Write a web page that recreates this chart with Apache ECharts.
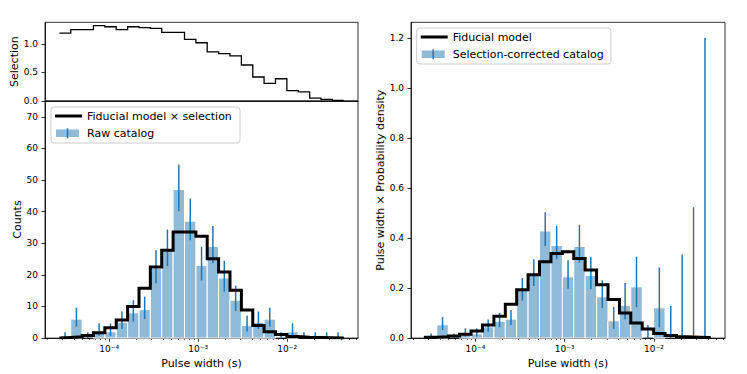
<!DOCTYPE html>
<html>
<head>
<meta charset="utf-8">
<script src="https://cdn.jsdelivr.net/npm/echarts@6/dist/echarts.min.js"></script>
<style>
html,body{margin:0;padding:0;background:#fff;}
#chart{width:747px;height:374px;}
</style>
</head>
<body>
<div id="chart"></div>
<script>
// ---------------- data ----------------
// log-spaced bin edges of pulse width (s), 25 bins
const binEdges = [2.754e-5, 3.698e-5, 4.966e-5, 6.653e-5, 8.933e-5, 1.199e-4, 1.611e-4, 2.163e-4,
  2.897e-4, 3.890e-4, 5.224e-4, 7.015e-4, 9.419e-4, 1.262e-3, 1.694e-3, 2.275e-3, 3.055e-3,
  4.102e-3, 5.495e-3, 7.379e-3, 9.908e-3, 1.330e-2, 1.786e-2, 2.393e-2, 3.214e-2, 4.315e-2];

// top-left panel: selection function
const selection = [1.19, 1.25, 1.25, 1.32, 1.30, 1.25, 1.30, 1.285, 1.27, 1.20, 1.20, 1.08, 1.02,
  0.86, 0.83, 0.79, 0.63, 0.42, 0.31, 0.39, 0.18, 0.16, 0.05, 0.03, 0.01];

// bottom-left panel: raw catalog counts and error bars
const rawCounts = [0, 6, 0, 2, 2, 5, 8, 9, 22, 28, 47, 37, 23, 29, 19, 12, 4, 5, 6, 0, 2, 0, 0, 0, 0];
const rawErrLow = [0, 3.63, 0, 0.71, 0.71, 2.85, 5.24, 6.06, 17.35, 22.74, 40.17, 30.95, 18.24, 23.65,
  14.68, 8.59, 2.09, 2.85, 3.63, 0, 0.71, 0, 0, 0, 0];
const rawErrHigh = [1.84, 9.6, 1.84, 4.66, 4.66, 8.4, 11.96, 13.12, 27.77, 34.36, 54.91, 44.14, 28.87,
  35.45, 24.44, 16.57, 7.18, 8.4, 9.6, 1.84, 4.66, 1.84, 1.84, 1.84, 1.84];
const modelTimesSelection = [0.2, 0.4, 0.8, 1.7, 3.3, 5.75, 10.0, 15.8, 22.5, 27.8, 33.6, 33.6, 32.2,
  25.1, 20.9, 15.1, 8.9, 4.0, 2.0, 1.1, 0.5, 0.3, 0.2, 0.1, 0.05];

// right panel: selection-corrected density and fiducial model
const densityValues = [0, 0.053, 0, 0.017, 0.017, 0.045, 0.067, 0.076, 0.190, 0.255, 0.428, 0.370,
  0.245, 0.366, 0.250, 0.165, 0.069, 0.130, 0.205, 0, 0.121, 0, 0, 0, 0];
const densityErrLow = [0, 0.032, 0, 0.006, 0.006, 0.025, 0.044, 0.052, 0.150, 0.208, 0.368, 0.315,
  0.197, 0.302, 0.195, 0.120, 0.036, 0.075, 0.124, 0, 0.043, 0, 0, 0, 0];
const densityErrHigh = [0.018, 0.084, 0.017, 0.039, 0.039, 0.074, 0.101, 0.112, 0.240, 0.315, 0.503,
  0.449, 0.311, 0.453, 0.324, 0.231, 0.125, 0.220, 0.325, 0.052, 0.282, 0.128, 0.334, 0.523, 1.200];
const fiducialModel = [0.003, 0.005, 0.008, 0.015, 0.028, 0.052, 0.087, 0.135, 0.193, 0.253, 0.305,
  0.338, 0.345, 0.318, 0.272, 0.213, 0.154, 0.100, 0.060, 0.036, 0.018, 0.010, 0.005, 0.003, 0.002];

// ticks
const xMajorTicks = [1e-4, 1e-3, 1e-2];
const xMajorLabels = ['10\u207B\u2074', '10\u207B\u00B3', '10\u207B\u00B2'];
const xMinorTicks = [2e-5, 3e-5, 4e-5, 5e-5, 6e-5, 7e-5, 8e-5, 9e-5,
  2e-4, 3e-4, 4e-4, 5e-4, 6e-4, 7e-4, 8e-4, 9e-4,
  2e-3, 3e-3, 4e-3, 5e-3, 6e-3, 7e-3, 8e-3, 9e-3,
  2e-2, 3e-2, 4e-2, 5e-2, 6e-2];
const selTicks = [0, 0.5, 1.0];
const countTicks = [0, 10, 20, 30, 40, 50, 60, 70];
const densityTicks = [0, 0.2, 0.4, 0.6, 0.8, 1.0, 1.2];

// axis ranges
const XMIN = 1.9e-5, XMAX = 0.0624;
const SEL_MAX = 1.378, COUNT_MAX = 75, DENS_MAX = 1.262;

// ---------------- helpers ----------------
const FONT = 'DejaVu Sans';
const BAR_FILL = '#8fbbd9';
const ERR_COLOR = '#1f77b4';

function stairs(vals, closed) {
  const pts = [];
  if (closed) pts.push([binEdges[0], 0]);
  vals.forEach((v, i) => pts.push([binEdges[i], v]));
  pts.push([binEdges[vals.length], vals[vals.length - 1]]);
  if (closed) pts.push([binEdges[vals.length], 0]);
  return pts;
}
function barData(vals, lo, hi) {
  return vals.map((v, i) => [binEdges[i], binEdges[i + 1], v, lo[i], hi[i]]);
}
function renderBar(params, api) {
  const a = api.coord([api.value(0), 0]);
  const b = api.coord([api.value(1), api.value(2)]);
  const xm = (a[0] + b[0]) / 2;
  const e0 = api.coord([api.value(0), api.value(3)]);
  const e1 = api.coord([api.value(0), api.value(4)]);
  const children = [];
  if (api.value(2) > 0) {
    children.push({type: 'rect', shape: {x: a[0], y: b[1], width: b[0] - a[0], height: a[1] - b[1]},
      style: {fill: BAR_FILL, stroke: '#ffffff', lineWidth: 1}});
  }
  children.push({type: 'line', shape: {x1: xm, y1: e0[1], x2: xm, y2: e1[1]},
    style: {stroke: ERR_COLOR, lineWidth: 1.5}});
  return {type: 'group', children: children};
}
function xTickLabel(v) {
  for (let k = 0; k < xMajorTicks.length; k++) {
    if (Math.abs(Math.log10(v) - Math.log10(xMajorTicks[k])) < 0.02) return xMajorLabels[k];
  }
  return '';
}
const axisLineStyle = {show: true, lineStyle: {color: '#000', width: 0.8}};
const labelStyle = {color: '#000', fontSize: 9, fontFamily: FONT};
const nameStyle = {color: '#000', fontSize: 11, fontFamily: FONT};

function mainX(grid, withLabels) {
  return {
    type: 'log', logBase: 10, gridIndex: grid, min: XMIN, max: XMAX, position: 'bottom',
    axisLine: axisLineStyle, splitLine: {show: false},
    axisTick: withLabels ? {show: true, customValues: xMajorTicks, length: 3.5, lineStyle: {color: '#000', width: 0.8}} : {show: false},
    axisLabel: withLabels ? Object.assign({show: true, customValues: xMajorTicks, margin: 6, formatter: xTickLabel}, labelStyle) : {show: false},
    name: withLabels ? 'Pulse width (s)' : '', nameLocation: 'middle', nameGap: 16, nameTextStyle: nameStyle
  };
}
function minorX(grid) {
  return {
    type: 'log', logBase: 10, gridIndex: grid, min: XMIN, max: XMAX, position: 'bottom',
    axisLine: {show: false}, splitLine: {show: false}, axisLabel: {show: false},
    axisTick: {show: true, customValues: xMinorTicks, length: 2, lineStyle: {color: '#000', width: 0.6}}
  };
}
function yAx(grid, max, interval, ticks, name, gap) {
  return {
    type: 'value', gridIndex: grid, min: 0, max: max, interval: interval,
    axisLine: axisLineStyle, splitLine: {show: false},
    axisTick: {show: true, customValues: ticks, length: 3.5, lineStyle: {color: '#000', width: 0.8}},
    axisLabel: Object.assign({show: true, customValues: ticks, margin: 7,
      formatter: v => (interval < 1 ? v.toFixed(1) : String(Math.round(v)))}, labelStyle),
    name: name, nameLocation: 'middle', nameGap: gap, nameTextStyle: nameStyle
  };
}

// legend built from graphic elements
function legend(x, y, w, lineLabel, barLabel) {
  return {
    type: 'group', z: 100, children: [
      {type: 'rect', shape: {x: x, y: y, width: w, height: 36, r: 3},
        style: {fill: 'rgba(255,255,255,0.8)', stroke: '#cccccc', lineWidth: 1}},
      {type: 'line', shape: {x1: x + 4, y1: y + 9, x2: x + 31, y2: y + 9}, style: {stroke: '#000', lineWidth: 3}},
      {type: 'text', x: x + 36, y: y + 9, style: {text: lineLabel, fontSize: 11, fontFamily: FONT, fill: '#000', verticalAlign: 'middle'}},
      {type: 'rect', shape: {x: x + 5, y: y + 22.5, width: 23, height: 7.5}, style: {fill: BAR_FILL}},
      {type: 'line', shape: {x1: x + 16.5, y1: y + 21.3, x2: x + 16.5, y2: y + 31.3}, style: {stroke: ERR_COLOR, lineWidth: 1.5}},
      {type: 'text', x: x + 36, y: y + 26, style: {text: barLabel, fontSize: 11, fontFamily: FONT, fill: '#000', verticalAlign: 'middle'}}
    ]
  };
}

const gridStyle = {show: true, borderColor: '#000', borderWidth: 0.8, backgroundColor: 'transparent'};

const option = {
  animation: false,
  textStyle: {fontFamily: FONT},
  grid: [
    Object.assign({left: 45, top: 22.3, width: 313, height: 78.7}, gridStyle),
    Object.assign({left: 45, top: 101, width: 313, height: 239.3}, gridStyle),
    Object.assign({left: 411, top: 22.3, width: 314, height: 318}, gridStyle)
  ],
  xAxis: [mainX(0, false), mainX(1, true), minorX(1), mainX(2, true), minorX(2)],
  yAxis: [
    yAx(0, SEL_MAX, 0.5, selTicks, 'Selection', 24),
    yAx(1, COUNT_MAX, 10, countTicks, 'Counts', 21),
    yAx(2, DENS_MAX, 0.2, densityTicks, 'Pulse width \u00D7 Probability density', 23)
  ],
  series: [
    {type: 'line', xAxisIndex: 0, yAxisIndex: 0, step: 'end', data: stairs(selection, false),
      showSymbol: false, silent: true, z: 3,
      lineStyle: {color: '#000', width: 1.3, join: 'miter'}},
    {type: 'custom', xAxisIndex: 1, yAxisIndex: 1, data: barData(rawCounts, rawErrLow, rawErrHigh),
      encode: {x: [0, 1], y: [2, 3, 4]}, renderItem: renderBar, silent: true, z: 2},
    {type: 'line', xAxisIndex: 1, yAxisIndex: 1, step: 'end', data: stairs(modelTimesSelection, true),
      showSymbol: false, silent: true, z: 3,
      lineStyle: {color: '#000', width: 3, join: 'miter'}},
    {type: 'custom', xAxisIndex: 3, yAxisIndex: 2, data: barData(densityValues, densityErrLow, densityErrHigh),
      encode: {x: [0, 1], y: [2, 3, 4]}, renderItem: renderBar, silent: true, z: 2},
    {type: 'line', xAxisIndex: 3, yAxisIndex: 2, step: 'end', data: stairs(fiducialModel, true),
      showSymbol: false, silent: true, z: 3,
      lineStyle: {color: '#000', width: 3, join: 'miter'}}
  ],
  graphic: [
    legend(51, 107, 189, 'Fiducial model \u00D7 selection', 'Raw catalog'),
    legend(416.7, 28, 194.3, 'Fiducial model', 'Selection-corrected catalog')
  ]
};

const chart = echarts.init(document.getElementById('chart'), null, {renderer: 'svg', width: 747, height: 374});
chart.setOption(option);
</script>
</body>
</html>
